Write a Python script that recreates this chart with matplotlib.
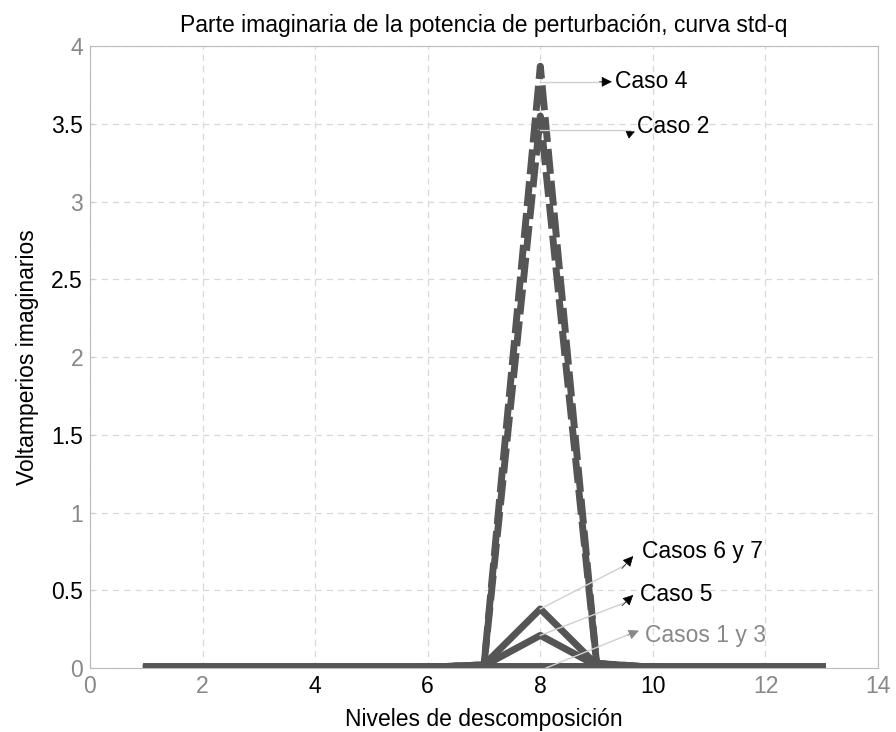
import numpy as np
import matplotlib.pyplot as plt

plt.rcParams['font.family'] = ['Liberation Sans', 'DejaVu Sans']

# Data
niveles = [1, 2, 3, 4, 5, 6, 7, 8, 9, 10, 11, 12, 13]
caso4 = [0, 0, 0, 0, 0, 0.005, 0.02, 3.87, 0.03, 0.005, 0, 0, 0]
caso2 = [0, 0, 0, 0, 0, 0.005, 0.02, 3.55, 0.03, 0.005, 0, 0, 0]
casos67 = [0, 0, 0, 0, 0, 0.005, 0.02, 0.38, 0.02, 0.005, 0, 0, 0]
caso5 = [0, 0, 0, 0, 0, 0.005, 0.015, 0.21, 0.015, 0.005, 0, 0, 0]
casos13 = [0.01, 0.01, 0.01, 0.01, 0.01, 0.01, 0.01, 0.01, 0.01, 0.01, 0.01, 0.01, 0.01]

xticks = [0, 2, 4, 6, 8, 10, 12, 14]
xtick_colors = ["#888888", "#888888", "black", "black", "black", "black", "#888888", "#888888"]
yticks = [0, 0.5, 1, 1.5, 2, 2.5, 3, 3.5, 4]
yticklabels = ["0", "0.5", "1", "1.5", "2", "2.5", "3", "3.5", "4"]

line_color = "#555555"
connector = "#d0d0d0"
fs = 16.5

fig = plt.figure(figsize=(8.96, 7.32), dpi=100)
ax = fig.add_axes([0.1004, 0.0874, 0.8796, 0.8497])

ax.plot(niveles, caso4, color=line_color, lw=5, linestyle=(0, (3.6, 1.0)))
ax.plot(niveles, caso2, color=line_color, lw=5, linestyle=(1.8, (3.6, 1.0)))
ax.plot(niveles, casos67, color=line_color, lw=5)
ax.plot(niveles, caso5, color=line_color, lw=5)
ax.plot(niveles, casos13, color=line_color, lw=5)

# thin connectors from the curves to the labels
ax.plot([8.0, 9.1], [3.77, 3.77], color=connector, lw=1)
ax.plot([8.0, 9.6], [3.46, 3.46], color=connector, lw=1)
ax.plot([8.0, 9.5], [0.38, 0.66], color=connector, lw=1)
ax.plot([8.0, 9.5], [0.21, 0.42], color=connector, lw=1)
ax.plot([8.1, 9.6], [0.0, 0.22], color=connector, lw=1)

def head(xy, xytext, color="black", size=16):
    ax.annotate("", xy=xy, xytext=xytext,
                arrowprops=dict(arrowstyle="-|>", color=color, lw=0.5,
                                mutation_scale=size, shrinkA=0, shrinkB=0))

head((9.27, 3.77), (9.05, 3.77))
head((9.68, 3.45), (9.55, 3.43), size=13)
head((9.65, 0.72), (9.45, 0.64))
head((9.65, 0.47), (9.45, 0.40))
head((9.75, 0.24), (9.55, 0.21), color="#888888")

ax.text(9.33, 3.77, "Caso 4", fontsize=fs, va="center", ha="left")
ax.text(9.72, 3.48, "Caso 2", fontsize=fs, va="center", ha="left")
ax.text(9.8, 0.75, "Casos 6 y 7", fontsize=fs, va="center", ha="left")
ax.text(9.77, 0.47, "Caso 5", fontsize=fs, va="center", ha="left")
ax.text(9.86, 0.21, "Casos 1 y 3", fontsize=fs, va="center", ha="left", color="#888888")

ax.set_xlim(0, 14)
ax.set_ylim(0, 4)
ax.set_xticks(xticks)
ax.set_yticks(yticks)
ax.set_yticklabels(yticklabels)
ax.tick_params(labelsize=fs, direction="in", length=3, color="#cccccc", pad=5)
for lbl, c in zip(ax.get_xticklabels(), xtick_colors):
    lbl.set_color(c)
for i, lbl in enumerate(ax.get_yticklabels()):
    lbl.set_color("#888888" if i % 2 == 0 else "black")
ax.grid(True, linestyle=(0, (5, 4)), color="#d8d8d8", lw=0.9)
for s in ax.spines.values():
    s.set_color("#bbbbbb")

ax.set_title("Parte imaginaria de la potencia de perturbación, curva std-q",
             fontsize=fs, pad=10)
ax.set_xlabel("Niveles de descomposición", fontsize=fs, labelpad=7)
ax.set_ylabel("Voltamperios imaginarios", fontsize=fs, labelpad=9)

fig.savefig("out.png", dpi=100)
